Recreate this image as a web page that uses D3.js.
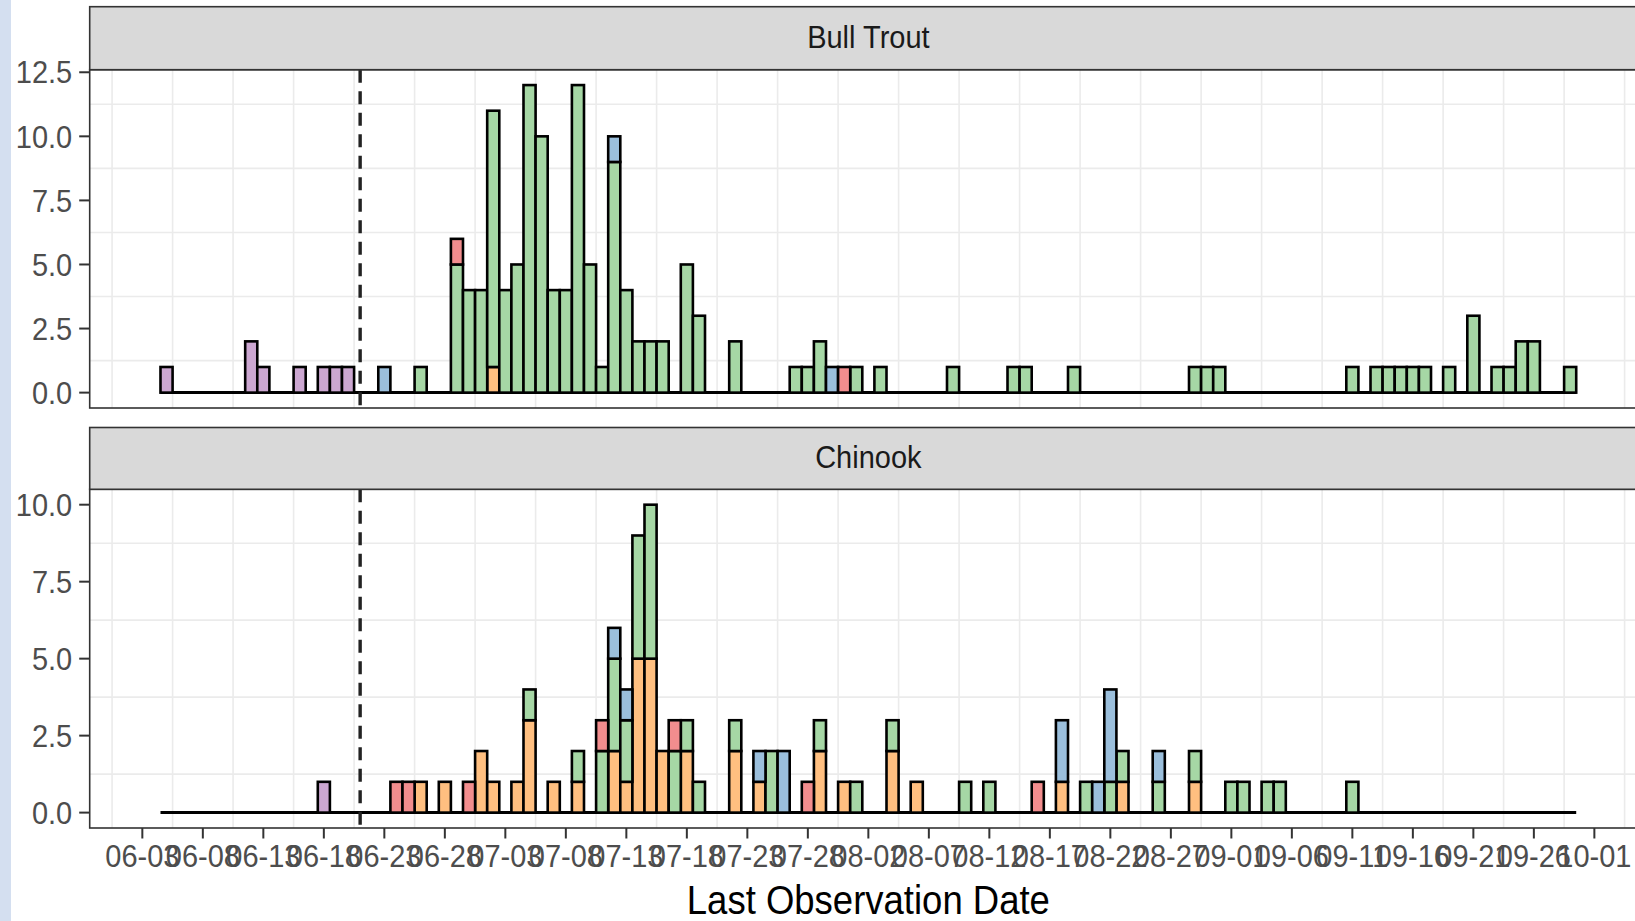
<!DOCTYPE html>
<html>
<head>
<meta charset="utf-8">
<script src="https://cdn.jsdelivr.net/npm/d3@7"></script>
<style>
html,body{margin:0;padding:0;background:#ffffff;overflow:hidden;}
svg{display:block;}
</style>
</head>
<body>
<svg id="chart" width="1635" height="921"></svg>
<script>
// ---------------- DATA ----------------
const YEAR = 2021;
const speciesNames = ["Bull Trout", "Chinook"];
// factor levels (first level is stacked on top, as in ggplot)
const groups = ["Group 1", "Group 2", "Group 3", "Group 4", "Group 5"];
const groupColors = ["#E41A1C", "#377EB8", "#4DAF4A", "#984EA3", "#FF7F00"];

// rows: [mm-dd, Group 1, Group 2, Group 3, Group 4, Group 5]
const bullTroutCounts = [
  ["06-05",0,0,0,1,0], ["06-12",0,0,0,2,0], ["06-13",0,0,0,1,0], ["06-16",0,0,0,1,0],
  ["06-18",0,0,0,1,0], ["06-19",0,0,0,1,0], ["06-20",0,0,0,1,0], ["06-23",0,1,0,0,0],
  ["06-26",0,0,1,0,0], ["06-29",1,0,5,0,0], ["06-30",0,0,4,0,0], ["07-01",0,0,4,0,0],
  ["07-02",0,0,10,0,1], ["07-03",0,0,4,0,0], ["07-04",0,0,5,0,0], ["07-05",0,0,12,0,0],
  ["07-06",0,0,10,0,0], ["07-07",0,0,4,0,0], ["07-08",0,0,4,0,0], ["07-09",0,0,12,0,0],
  ["07-10",0,0,5,0,0], ["07-11",0,0,1,0,0], ["07-12",0,1,9,0,0], ["07-13",0,0,4,0,0],
  ["07-14",0,0,2,0,0], ["07-15",0,0,2,0,0], ["07-16",0,0,2,0,0], ["07-18",0,0,5,0,0],
  ["07-19",0,0,3,0,0], ["07-22",0,0,2,0,0], ["07-27",0,0,1,0,0], ["07-28",0,0,1,0,0],
  ["07-29",0,0,2,0,0], ["07-30",0,1,0,0,0], ["07-31",1,0,0,0,0], ["08-01",0,0,1,0,0],
  ["08-03",0,0,1,0,0], ["08-09",0,0,1,0,0], ["08-14",0,0,1,0,0], ["08-15",0,0,1,0,0],
  ["08-19",0,0,1,0,0], ["08-29",0,0,1,0,0], ["08-30",0,0,1,0,0], ["08-31",0,0,1,0,0],
  ["09-11",0,0,1,0,0], ["09-13",0,0,1,0,0], ["09-14",0,0,1,0,0], ["09-15",0,0,1,0,0],
  ["09-16",0,0,1,0,0], ["09-17",0,0,1,0,0], ["09-19",0,0,1,0,0], ["09-21",0,0,3,0,0],
  ["09-23",0,0,1,0,0], ["09-24",0,0,1,0,0], ["09-25",0,0,2,0,0], ["09-26",0,0,2,0,0],
  ["09-29",0,0,1,0,0]
];

const chinookCounts = [
  ["06-18",0,0,0,1,0], ["06-24",1,0,0,0,0], ["06-25",1,0,0,0,0], ["06-26",0,0,0,0,1],
  ["06-28",0,0,0,0,1], ["06-30",1,0,0,0,0], ["07-01",0,0,0,0,2], ["07-02",0,0,0,0,1],
  ["07-04",0,0,0,0,1], ["07-05",0,0,1,0,3], ["07-07",0,0,0,0,1], ["07-09",0,0,1,0,1],
  ["07-11",1,0,2,0,0], ["07-12",0,1,3,0,2], ["07-13",0,1,2,0,1], ["07-14",0,0,4,0,5],
  ["07-15",0,0,5,0,5], ["07-16",0,0,0,0,2], ["07-17",1,0,2,0,0], ["07-18",0,0,1,0,2],
  ["07-19",0,0,1,0,0], ["07-22",0,0,1,0,2], ["07-24",0,1,0,0,1], ["07-25",0,0,2,0,0],
  ["07-26",0,2,0,0,0], ["07-28",1,0,0,0,0], ["07-29",0,0,1,0,2], ["07-31",0,0,0,0,1],
  ["08-01",0,0,1,0,0], ["08-04",0,0,1,0,2], ["08-06",0,0,0,0,1], ["08-10",0,0,1,0,0],
  ["08-12",0,0,1,0,0], ["08-16",1,0,0,0,0], ["08-18",0,2,0,0,1], ["08-20",0,0,1,0,0],
  ["08-21",0,1,0,0,0], ["08-22",0,3,1,0,0], ["08-23",0,0,1,0,1], ["08-26",0,1,1,0,0],
  ["08-29",0,0,1,0,1], ["09-01",0,0,1,0,0], ["09-02",0,0,1,0,0], ["09-04",0,0,1,0,0],
  ["09-05",0,0,1,0,0], ["09-11",0,0,1,0,0]
];

const xTickLabels = ["06-03","06-08","06-13","06-18","06-23","06-28","07-03","07-08","07-13",
  "07-18","07-23","07-28","08-02","08-07","08-12","08-17","08-22","08-27","09-01","09-06",
  "09-11","09-16","09-21","09-26","10-01"];
const bullTroutYTicks = [0, 2.5, 5, 7.5, 10, 12.5];
const chinookYTicks = [0, 2.5, 5, 7.5, 10];
const cutoffDate = "06-21";
const xTitle = "Last Observation Date";

// ---------------- LAYOUT ----------------
const W = 1635, H = 921;
const plotLeft = 89.7, plotRight = 1647;
const facets = [
  {name: speciesNames[0], rows: bullTroutCounts, yTicks: bullTroutYTicks,
   stripTop: 6.7, panelTop: 69.7, panelBottom: 408},
  {name: speciesNames[1], rows: chinookCounts, yTicks: chinookYTicks,
   stripTop: 427.5, panelTop: 489.3, panelBottom: 828}
];
const TXT_STRETCH = 1.1;
const axisFont = 29, titleFont = 36.5;
const fontFamily = "'Liberation Sans', Arial, Helvetica, sans-serif";
const DAY = 86400000;

const parseD = s => new Date(Date.UTC(YEAR, +s.slice(0,2) - 1, +s.slice(3,5)));
const svg = d3.select("#chart");

svg.append("rect").attr("x",0).attr("y",0).attr("width",W).attr("height",H).attr("fill","#ffffff");
svg.append("rect").attr("x",0).attr("y",0).attr("width",11).attr("height",H).attr("fill","#d4dff0");

function stretchedText(g, x, y, str, opts) {
  const t = g.append("g").attr("transform", `translate(${x},${y}) scale(1,${TXT_STRETCH})`)
    .append("text")
    .attr("x", 0).attr("y", 0)
    .attr("font-family", fontFamily)
    .attr("font-size", opts.size)
    .attr("fill", opts.fill)
    .attr("text-anchor", opts.anchor || "middle")
    .attr("dy", opts.dy || "0.35em")
    .text(str);
  return t;
}

// shared x scale (bins of one day centred on each date, ggplot 5% expansion)
const allDates = [...bullTroutCounts, ...chinookCounts].map(r => parseD(r[0]));
const binStart = new Date(d3.min(allDates).getTime() - DAY/2);
const binEnd = new Date(d3.max(allDates).getTime() + DAY/2);
const span = binEnd - binStart;
const x = d3.scaleUtc()
  .domain([new Date(binStart.getTime() - 0.05*span), new Date(binEnd.getTime() + 0.05*span)])
  .range([plotLeft, plotRight]);

const tickDates = xTickLabels.map(parseD);
const xGridDates = [new Date(tickDates[0].getTime() - 2.5*DAY),
  ...tickDates.map(d => new Date(d.getTime() + 2.5*DAY))];

// stack order: last level at the bottom
const stackKeys = groups.slice().reverse();

facets.forEach((f, fi) => {
  const g = svg.append("g");
  const data = f.rows.map(r => {
    const o = {date: parseD(r[0])};
    groups.forEach((k, i) => o[k] = r[i+1]);
    return o;
  });
  const maxTotal = d3.max(data, d => d3.sum(groups, k => d[k]));
  const y = d3.scaleLinear()
    .domain([0 - 0.05*maxTotal, maxTotal*1.05])
    .range([f.panelBottom, f.panelTop]);

  // panel background
  g.append("rect").attr("x", plotLeft).attr("y", f.panelTop)
    .attr("width", plotRight - plotLeft).attr("height", f.panelBottom - f.panelTop)
    .attr("fill", "#ffffff");

  // grid (minor positions)
  const yGrid = [];
  for (let i = 0; i < f.yTicks.length; i++) {
    const m = f.yTicks[i] + 1.25;
    if (m < y.domain()[1]) yGrid.push(m);
  }
  g.append("g").selectAll("line.hg").data(yGrid).join("line")
    .attr("x1", plotLeft).attr("x2", plotRight)
    .attr("y1", d => y(d)).attr("y2", d => y(d))
    .attr("stroke", "#ebebeb").attr("stroke-width", 1.6);
  g.append("g").selectAll("line.vg").data(xGridDates).join("line")
    .attr("x1", d => x(d)).attr("x2", d => x(d))
    .attr("y1", f.panelTop).attr("y2", f.panelBottom)
    .attr("stroke", "#ebebeb").attr("stroke-width", 1.6);

  // baseline of empty bins
  g.append("line")
    .attr("x1", x(binStart)).attr("x2", x(binEnd))
    .attr("y1", y(0)).attr("y2", y(0))
    .attr("stroke", "#000").attr("stroke-width", 3);

  // stacked bars
  const series = d3.stack().keys(stackKeys)(data);
  const gb = g.append("g");
  series.forEach(s => {
    const col = d3.color(groupColors[groups.indexOf(s.key)]);
    const fill = d3.interpolateRgb(col, "#ffffff")(0.5);
    gb.append("g").selectAll("rect")
      .data(s.filter(d => d[1] > d[0]))
      .join("rect")
      .attr("x", d => x(new Date(d.data.date.getTime() - DAY/2)))
      .attr("width", d => x(new Date(d.data.date.getTime() + DAY/2)) - x(new Date(d.data.date.getTime() - DAY/2)))
      .attr("y", d => y(d[1]))
      .attr("height", d => y(d[0]) - y(d[1]))
      .attr("fill", fill)
      .attr("stroke", "#000")
      .attr("stroke-width", 2.6);
  });

  // dashed cutoff line
  g.append("line")
    .attr("x1", x(parseD(cutoffDate))).attr("x2", x(parseD(cutoffDate)))
    .attr("y1", f.panelTop).attr("y2", f.panelBottom)
    .attr("stroke", "#222").attr("stroke-width", 3.4)
    .attr("stroke-dasharray", "13,8.5");

  // panel border
  g.append("rect").attr("x", plotLeft).attr("y", f.panelTop)
    .attr("width", plotRight - plotLeft).attr("height", f.panelBottom - f.panelTop)
    .attr("fill", "none").attr("stroke", "#333333").attr("stroke-width", 1.6);

  // strip
  g.append("rect").attr("x", plotLeft).attr("y", f.stripTop)
    .attr("width", plotRight - plotLeft).attr("height", f.panelTop - f.stripTop)
    .attr("fill", "#d9d9d9").attr("stroke", "#333333").attr("stroke-width", 1.6);
  stretchedText(g, (plotLeft + plotRight)/2, (f.stripTop + f.panelTop)/2 - 1.5, f.name,
    {size: axisFont, fill: "#1a1a1a"});

  // y axis
  const gy = g.append("g");
  gy.selectAll("line").data(f.yTicks).join("line")
    .attr("x1", plotLeft - 10.5).attr("x2", plotLeft)
    .attr("y1", d => y(d)).attr("y2", d => y(d))
    .attr("stroke", "#333333").attr("stroke-width", 2);
  f.yTicks.forEach(v => {
    stretchedText(gy, plotLeft - 17.5, y(v), d3.format(".1f")(v),
      {size: axisFont, fill: "#4d4d4d", anchor: "end"});
  });

  // x axis only on the bottom facet
  if (fi === facets.length - 1) {
    const gx = g.append("g");
    gx.selectAll("line").data(tickDates).join("line")
      .attr("x1", d => x(d)).attr("x2", d => x(d))
      .attr("y1", f.panelBottom).attr("y2", f.panelBottom + 10.5)
      .attr("stroke", "#333333").attr("stroke-width", 2);
    tickDates.forEach((d, i) => {
      stretchedText(gx, x(d), 856, xTickLabels[i], {size: axisFont, fill: "#4d4d4d"});
    });
    stretchedText(g, (plotLeft + plotRight)/2, 900, xTitle, {size: titleFont, fill: "#000000"});
  }
});
</script>
</body>
</html>
